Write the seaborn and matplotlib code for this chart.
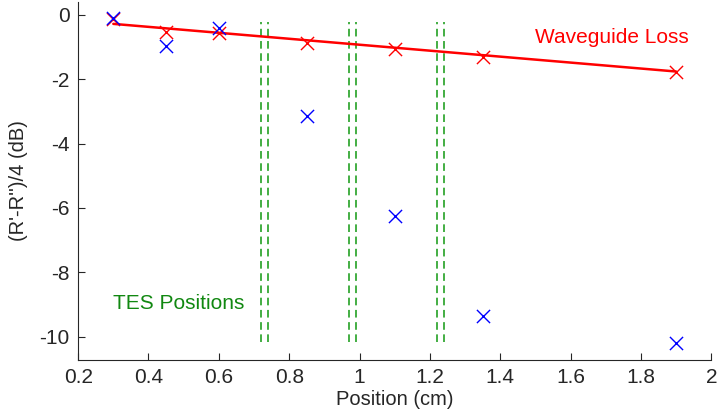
import numpy as np
import pandas as pd
import matplotlib
matplotlib.use("Agg")
import matplotlib.pyplot as plt
import seaborn as sns

# measured points (cm, dB)
pos = [0.3, 0.45, 0.6, 0.85, 1.1, 1.35, 1.9]
loss_red = [-0.13, -0.52, -0.57, -0.86, -1.07, -1.31, -1.79]
loss_blue = [-0.10, -0.96, -0.41, -3.13, -6.24, -9.37, -10.21]

# waveguide loss fit line ends
fit_x = [0.3, 1.9]
fit_y = [-0.28, -1.76]

# TES positions (pairs of dashed lines)
tes_x = [0.72, 0.74, 0.97, 0.99, 1.22, 1.24]
tes_y = [-10.15, -0.22]

xticks = [0.2, 0.4, 0.6, 0.8, 1.0, 1.2, 1.4, 1.6, 1.8, 2.0]
xticklabels = ["0.2", "0.4", "0.6", "0.8", "1", "1.2", "1.4", "1.6", "1.8", "2"]
yticks = [0, -2, -4, -6, -8, -10]

sns.set_style("ticks")
plt.rcParams["font.family"] = ["Liberation Sans", "DejaVu Sans"]
plt.rcParams["axes.unicode_minus"] = False
plt.rcParams["xtick.direction"] = "in"
plt.rcParams["ytick.direction"] = "in"

fig = plt.figure(figsize=(7.17, 4.18), dpi=100)
ax = fig.add_axes([0.109, 0.139, 0.883, 0.857])

df = pd.DataFrame({"pos": pos, "red": loss_red, "blue": loss_blue})

for x in tes_x:
    ax.plot([x, x], tes_y, color="#119911", ls=(0, (5, 3)), lw=1.1)

sns.lineplot(x=fit_x, y=fit_y, color="red", lw=1.8, ax=ax)
sns.scatterplot(data=df, x="pos", y="red", marker="x", color="red", s=90,
                linewidth=1.0, ax=ax, zorder=3)
sns.scatterplot(data=df, x="pos", y="blue", marker="x", color="blue", s=90,
                linewidth=1.0, ax=ax, zorder=4)

ax.text(1.50, -0.71, "Waveguide Loss", color="red", fontsize=15, va="center")
ax.text(0.30, -8.97, "TES Positions", color="#118811", fontsize=15, va="center")

ax.set_xlim(0.2, 2.0)
ax.set_ylim(-10.72, 0.41)
ax.set_xticks(xticks)
ax.set_xticklabels(xticklabels)
ax.set_yticks(yticks)
ax.tick_params(labelsize=15, length=5, width=0.8, pad=6)
ax.set_xlabel("Position (cm)", fontsize=14.5, labelpad=2)
ax.set_ylabel("(R'-R'')/4 (dB)", fontsize=14.5, labelpad=8)
for s in ["top", "right"]:
    ax.spines[s].set_visible(False)

fig.savefig("out.png", dpi=100)
